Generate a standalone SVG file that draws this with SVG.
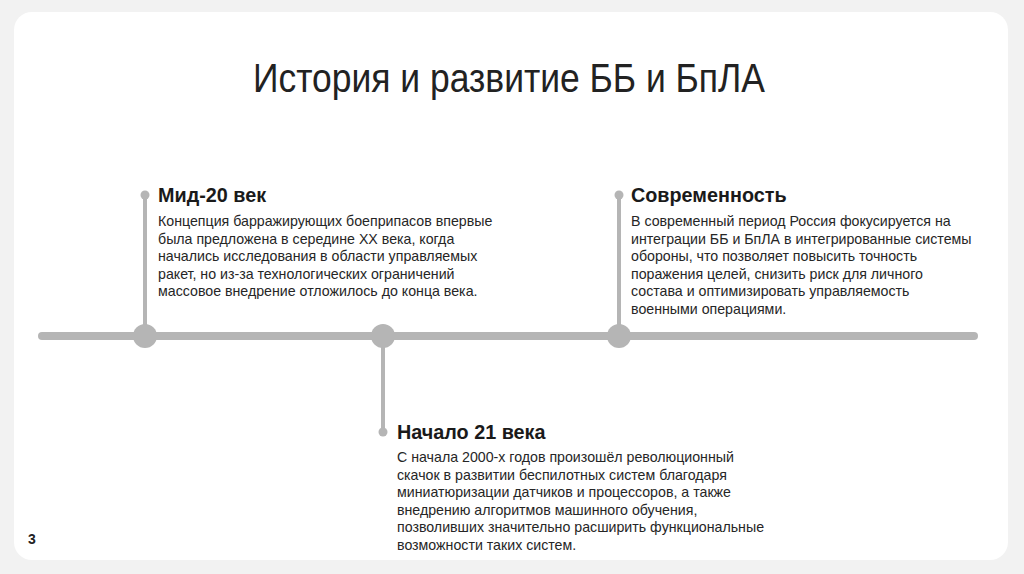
<svg xmlns="http://www.w3.org/2000/svg" width="1024" height="574" viewBox="0 0 1024 574">
<style>
.t{font-family:"Liberation Sans",Arial,sans-serif;fill:#222}
.h{font-family:"Liberation Sans",Arial,sans-serif;font-weight:bold;font-size:19.8px;fill:#1a1a1a}
.b{font-family:"Liberation Sans",Arial,sans-serif;font-size:14.2px;fill:#262626}
.ln{stroke:#b5b5b5;stroke-linecap:round;fill:none}
.dot{fill:#b5b5b5}
</style>
<rect width="1024" height="574" fill="#f2f2f2"/>
<rect x="14" y="12" width="994" height="548" rx="18" fill="#ffffff"/>
<text class="t" x="509" y="92" font-size="40" text-anchor="middle" textLength="512" lengthAdjust="spacingAndGlyphs">История и развитие ББ и БпЛА</text>
<g id="connectors">
<line class="ln" x1="42" y1="336" x2="974" y2="336" stroke-width="8"/>
<line class="ln" x1="145" y1="195" x2="145" y2="336" stroke-width="4"/>
<line class="ln" x1="383" y1="336" x2="383" y2="432" stroke-width="4"/>
<line class="ln" x1="619" y1="195" x2="619" y2="336" stroke-width="4"/>
</g>
<g id="node1">
<circle class="dot" cx="145" cy="336" r="12"/>
<circle class="dot" cx="145" cy="195" r="4.5"/>
<text class="h" x="158" y="202">Мид-20 век</text>
<text class="b"><tspan x="158" y="226">Концепция барражирующих боеприпасов впервые</tspan><tspan x="158" y="243.6">была предложена в середине XX века, когда</tspan><tspan x="158" y="261.2">начались исследования в области управляемых</tspan><tspan x="158" y="278.8">ракет, но из-за технологических ограничений</tspan><tspan x="158" y="296.4">массовое внедрение отложилось до конца века.</tspan></text>
</g>
<g id="node2">
<circle class="dot" cx="383" cy="336" r="12"/>
<circle class="dot" cx="383" cy="432" r="4.5"/>
<text class="h" x="397" y="439">Начало 21 века</text>
<text class="b"><tspan x="397" y="462">С начала 2000-х годов произошёл революционный</tspan><tspan x="397" y="479.6">скачок в развитии беспилотных систем благодаря</tspan><tspan x="397" y="497.2">миниатюризации датчиков и процессоров, а также</tspan><tspan x="397" y="514.8">внедрению алгоритмов машинного обучения,</tspan><tspan x="397" y="532.4">позволивших значительно расширить функциональные</tspan><tspan x="397" y="550">возможности таких систем.</tspan></text>
</g>
<g id="node3">
<circle class="dot" cx="619" cy="336" r="12"/>
<circle class="dot" cx="619" cy="195" r="4.5"/>
<text class="h" x="631" y="202">Современность</text>
<text class="b"><tspan x="631" y="226">В современный период Россия фокусируется на</tspan><tspan x="631" y="243.6">интеграции ББ и БпЛА в интегрированные системы</tspan><tspan x="631" y="261.2">обороны, что позволяет повысить точность</tspan><tspan x="631" y="278.8">поражения целей, снизить риск для личного</tspan><tspan x="631" y="296.4">состава и оптимизировать управляемость</tspan><tspan x="631" y="314">военными операциями.</tspan></text>
</g>
<text class="t" x="28" y="544" font-size="14" font-weight="bold">3</text>
</svg>
